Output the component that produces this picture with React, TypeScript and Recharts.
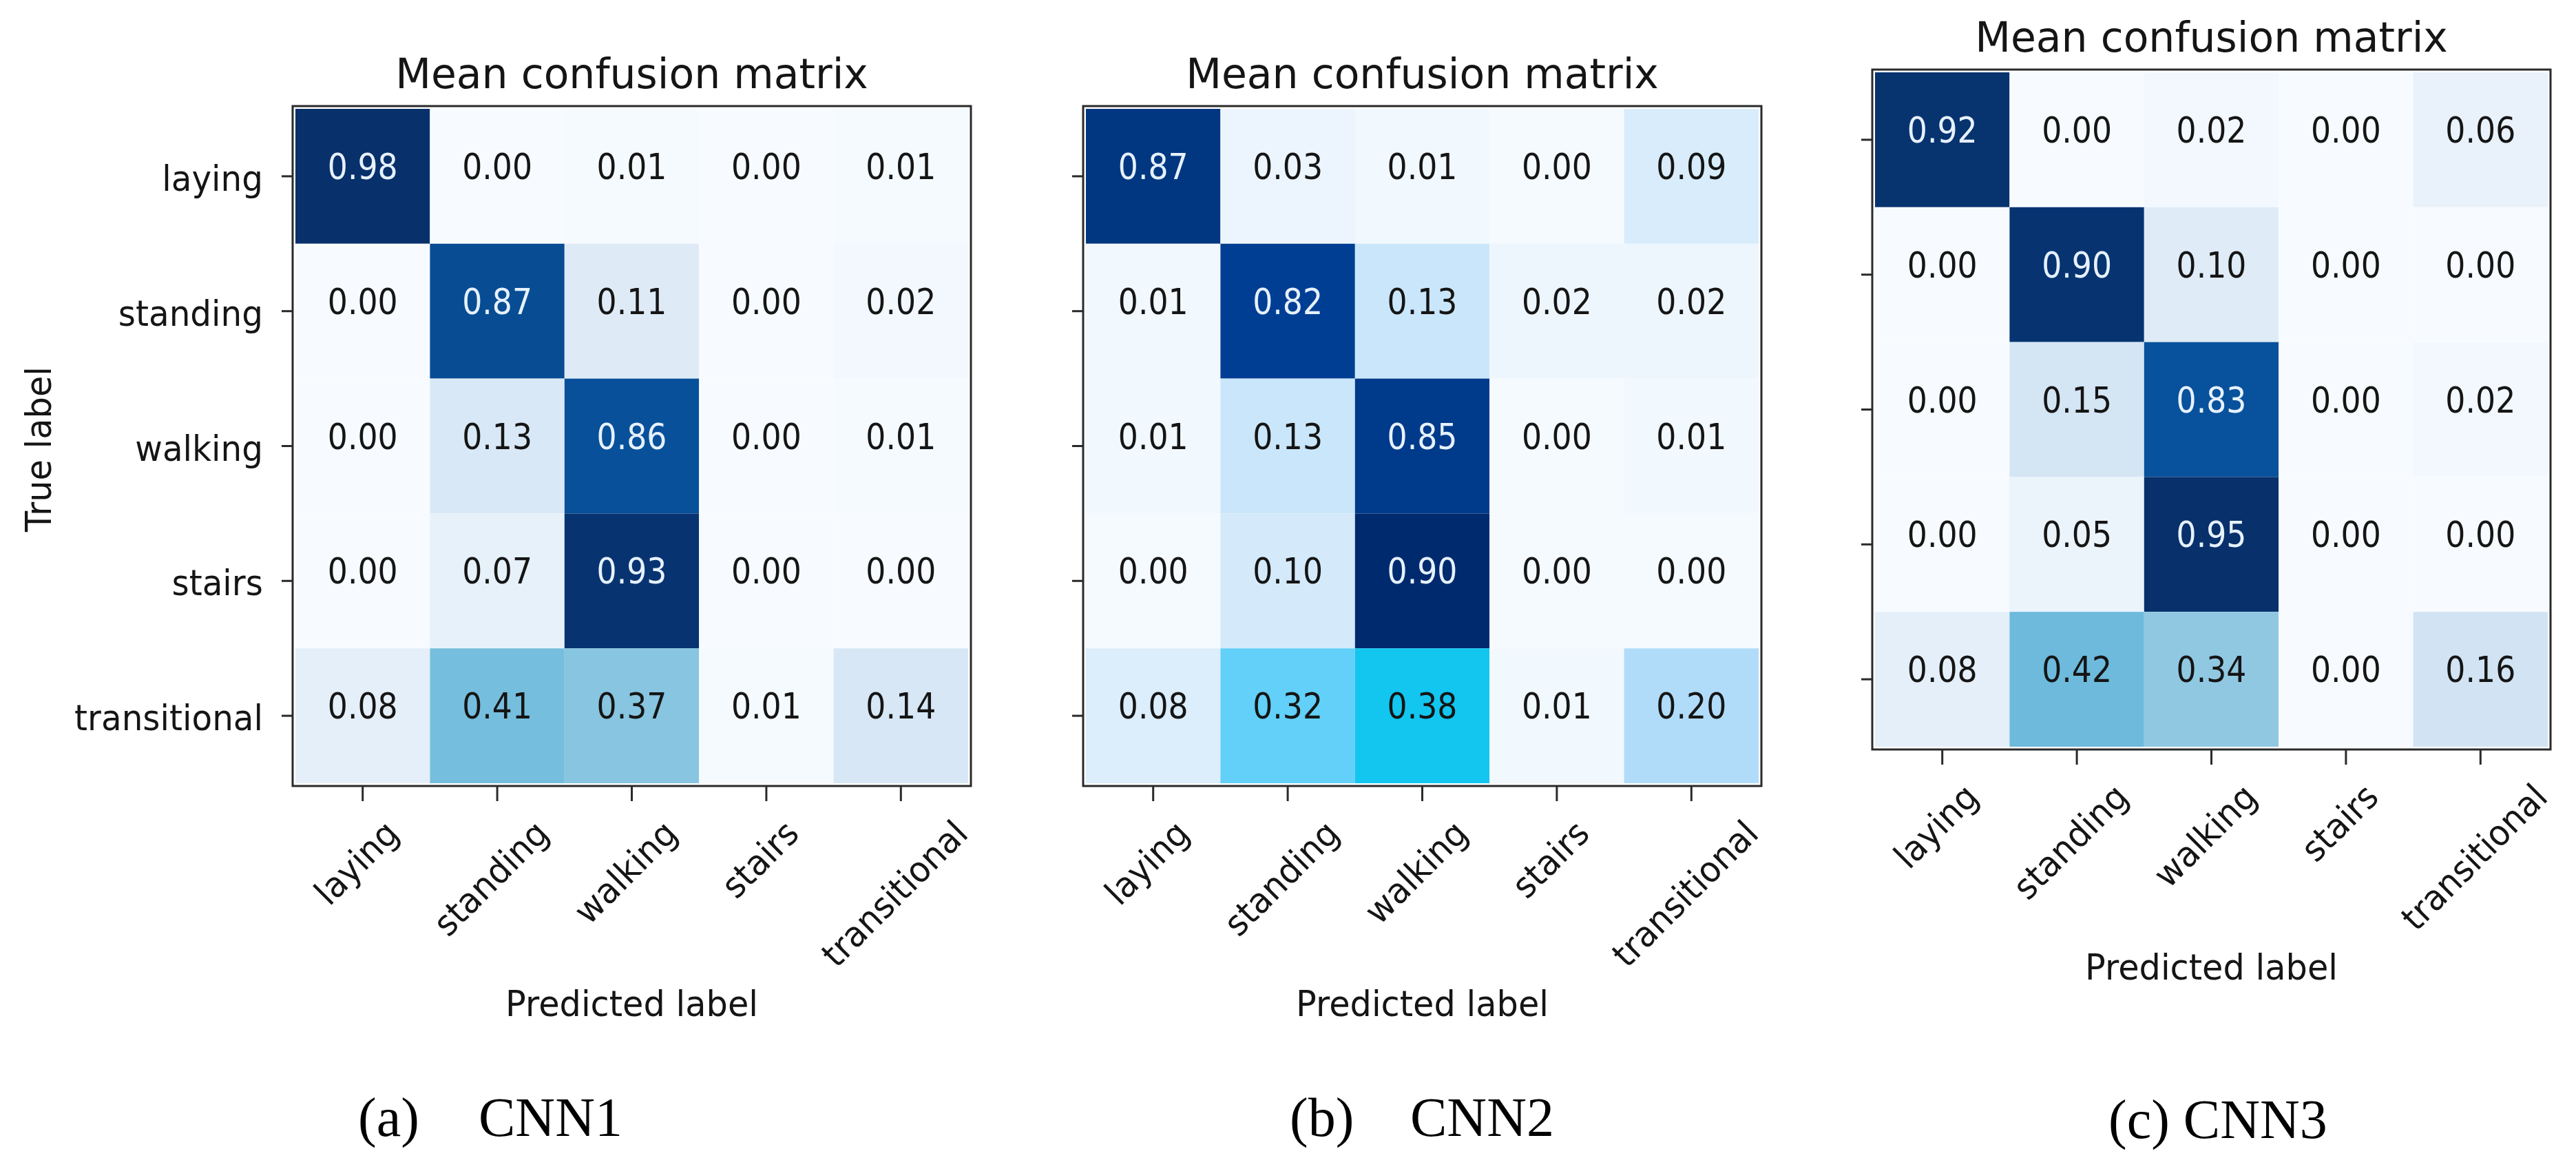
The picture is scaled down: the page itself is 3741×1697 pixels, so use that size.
import React from 'react';
import { ScatterChart, Scatter, XAxis, YAxis, ReferenceArea } from 'recharts';

// ---------------- data ----------------
const CLASSES = ['laying', 'standing', 'walking', 'stairs', 'transitional'];
const TICK_VALUES = [0, 1, 2, 3, 4];

const CNN1 = [
  [0.98, 0.0, 0.01, 0.0, 0.01],
  [0.0, 0.87, 0.11, 0.0, 0.02],
  [0.0, 0.13, 0.86, 0.0, 0.01],
  [0.0, 0.07, 0.93, 0.0, 0.0],
  [0.08, 0.41, 0.37, 0.01, 0.14],
];
const CNN2 = [
  [0.87, 0.03, 0.01, 0.0, 0.09],
  [0.01, 0.82, 0.13, 0.02, 0.02],
  [0.01, 0.13, 0.85, 0.0, 0.01],
  [0.0, 0.1, 0.9, 0.0, 0.0],
  [0.08, 0.32, 0.38, 0.01, 0.2],
];
const CNN3 = [
  [0.92, 0.0, 0.02, 0.0, 0.06],
  [0.0, 0.9, 0.1, 0.0, 0.0],
  [0.0, 0.15, 0.83, 0.0, 0.02],
  [0.0, 0.05, 0.95, 0.0, 0.0],
  [0.08, 0.42, 0.34, 0.0, 0.16],
];

const TITLE = 'Mean confusion matrix';
const X_LABEL = 'Predicted label';
const Y_LABEL = 'True label';
const CAPTION_TAGS = ['(a)', '(b)', '(c)'];
const CAPTION_NAMES = ['CNN1', 'CNN2', 'CNN3'];

// ---------------- styles / colormaps ----------------
type Stop = [number, string];
const BLUES: Stop[] = [
  [0, '#f7fbff'],
  [0.125, '#dbe9f6'],
  [0.25, '#c2daee'],
  [0.375, '#88c5e0'],
  [0.5, '#55b0d8'],
  [0.625, '#3a8fc8'],
  [0.75, '#1c6fb4'],
  [0.875, '#08519c'],
  [0.94, '#073572'],
  [1, '#08306b'],
];
const CYAN_BLUES: Stop[] = [
  [0, '#f5faff'],
  [0.011, '#f1f8fe'],
  [0.033, '#ecf5fd'],
  [0.09, '#dcedfb'],
  [0.111, '#d4eafa'],
  [0.145, '#cae6fa'],
  [0.222, '#b0dcfa'],
  [0.356, '#62d0f8'],
  [0.422, '#12c6f0'],
  [0.6, '#0a82cc'],
  [0.911, '#003e94'],
  [0.944, '#003a8a'],
  [0.967, '#003780'],
  [1, '#002a6e'],
];

function hexRgb(h: string): number[] {
  const n = parseInt(h.slice(1), 16);
  return [(n >> 16) & 255, (n >> 8) & 255, n & 255];
}
function cmap(stops: Stop[], t: number): string {
  const tt = Math.max(0, Math.min(1, t));
  for (let i = 1; i < stops.length; i++) {
    if (tt <= stops[i][0]) {
      const [t0, c0] = stops[i - 1];
      const [t1, c1] = stops[i];
      const f = t1 === t0 ? 0 : (tt - t0) / (t1 - t0);
      const a = hexRgb(c0);
      const b = hexRgb(c1);
      const m = a.map((v, k) => Math.round(v + (b[k] - v) * f));
      return `rgb(${m[0]},${m[1]},${m[2]})`;
    }
  }
  return stops[stops.length - 1][1];
}

const FONT = '"DejaVu Sans", Verdana, sans-serif';
const SERIF = '"Liberation Serif", "Times New Roman", serif';
const INK = '#151515';
const LIGHT_INK = '#e6f1fc';
const FRAME_COLOR = '#2a2a2a';

const PAGE_W = 3741;
const PAGE_H = 1697;
const PLOT_W = 977;
const PLOT_H = 979;
const CELL_W = PLOT_W / 5;
const CELL_H = PLOT_H / 5;
const FRAME_PAD = 4;
const Y_AXIS_W = 420;
const TOP_M = 20;
const RIGHT_M = 20;
const X_AXIS_H = 320;

const CELL_FS = 52;
const CELL_SX = 0.88;
const TICK_FS = 51;
const TICK_SX = 0.95;
const TITLE_FS = 60;
const LABEL_FS = 52;
const CAPTION_FS = 80;

const PANELS = [
  { matrix: CNN1, stops: BLUES, plotLeft: 429, plotTop: 158, showY: true, cap: { tagX: 520, nameX: 695, y: 1649, joined: false } },
  { matrix: CNN2, stops: CYAN_BLUES, plotLeft: 1577, plotTop: 158, showY: false, cap: { tagX: 1873, nameX: 2048, y: 1649, joined: false } },
  { matrix: CNN3, stops: BLUES, plotLeft: 2723, plotTop: 105, showY: false, cap: { tagX: 3062, nameX: 0, y: 1652, joined: true } },
];

// ---------------- helpers ----------------
let measureCtx: CanvasRenderingContext2D | null = null;
function textWidth(s: string, size: number): number {
  try {
    if (!measureCtx) measureCtx = document.createElement('canvas').getContext('2d');
    if (measureCtx) {
      measureCtx.font = `${size}px "DejaVu Sans"`;
      return measureCtx.measureText(s).width;
    }
  } catch (e) {
    /* ignore */
  }
  return s.length * 0.58 * size;
}

const XTick = (props: any) => {
  const { x, y, payload } = props;
  const label = CLASSES[payload.value] ?? '';
  const fb = y + FRAME_PAD;
  const w = textWidth(label, TICK_FS) * TICK_SX;
  const h = 50;
  const cx = x - 9;
  const cy = fb + 42 + (w + h) / (2 * Math.SQRT2);
  return (
    <g>
      <line x1={x} x2={x} y1={fb} y2={fb + 22} stroke={FRAME_COLOR} strokeWidth={3} />
      <text
        transform={`translate(${cx},${cy}) rotate(-45) scale(${TICK_SX},1)`}
        textAnchor="middle"
        dominantBaseline="central"
        fontSize={TICK_FS}
        fontFamily={FONT}
        fill={INK}
      >
        {label}
      </text>
    </g>
  );
};

const makeYTick = (show: boolean) => (props: any) => {
  const { x, y, payload } = props;
  const fl = x - FRAME_PAD;
  return (
    <g>
      <line x1={fl - 16} x2={fl} y1={y} y2={y} stroke={FRAME_COLOR} strokeWidth={3} />
      {show && (
        <text
          transform={`translate(${fl - 43},${y + 21}) scale(${TICK_SX},1)`}
          textAnchor="end"
          fontSize={TICK_FS}
          fontFamily={FONT}
          fill={INK}
        >
          {CLASSES[payload.value]}
        </text>
      )}
    </g>
  );
};

const CellMark = (props: any) => {
  const { cx, cy, payload } = props;
  if (cx == null || cy == null || !payload) return null;
  return (
    <g>
      <rect x={cx - CELL_W / 2} y={cy - CELL_H / 2} width={CELL_W} height={CELL_H} fill={payload.fill} />
      <text
        transform={`translate(${cx},${cy + 4}) scale(${CELL_SX},1)`}
        textAnchor="middle"
        fontSize={CELL_FS}
        fontFamily={FONT}
        fill={payload.ink}
      >
        {payload.v.toFixed(2)}
      </text>
    </g>
  );
};

const Frame = (props: any) => {
  const { x, y, width, height } = props;
  return (
    <rect
      x={x - FRAME_PAD}
      y={y - FRAME_PAD}
      width={width + 2 * FRAME_PAD}
      height={height + 2 * FRAME_PAD}
      fill="none"
      stroke={FRAME_COLOR}
      strokeWidth={3}
    />
  );
};

function Panel({ panel }: { panel: (typeof PANELS)[number] }) {
  const flat = panel.matrix.flat();
  const max = Math.max(...flat);
  const data = panel.matrix.flatMap((row, r) =>
    row.map((v, c) => ({
      x: c,
      y: r,
      v,
      fill: cmap(panel.stops, v / max),
      ink: v > max / 2 ? LIGHT_INK : INK,
    }))
  );
  const width = Y_AXIS_W + PLOT_W + RIGHT_M;
  const height = TOP_M + PLOT_H + X_AXIS_H;
  const YTick = makeYTick(panel.showY);
  return (
    <div style={{ position: 'absolute', left: panel.plotLeft - Y_AXIS_W, top: panel.plotTop - TOP_M }}>
      <ScatterChart width={width} height={height} margin={{ top: TOP_M, right: RIGHT_M, bottom: 0, left: 0 }}>
        <XAxis
          type="number"
          dataKey="x"
          domain={[-0.5, 4.5]}
          ticks={TICK_VALUES}
          interval={0}
          height={X_AXIS_H}
          tickSize={0}
          tickMargin={0}
          axisLine={false}
          tickLine={false}
          tick={(p: any) => <XTick {...p} />}
        />
        <YAxis
          type="number"
          dataKey="y"
          domain={[-0.5, 4.5]}
          reversed
          ticks={TICK_VALUES}
          interval={0}
          width={Y_AXIS_W}
          tickSize={0}
          tickMargin={0}
          axisLine={false}
          tickLine={false}
          tick={(p: any) => <YTick {...p} />}
        />
        <Scatter data={data} isAnimationActive={false} shape={(p: any) => <CellMark {...p} />} />
        <ReferenceArea x1={-0.5} x2={4.5} y1={-0.5} y2={4.5} shape={(p: any) => <Frame {...p} />} />
      </ScatterChart>
    </div>
  );
}

export default function App() {
  return (
    <div style={{ position: 'relative', width: PAGE_W, height: PAGE_H, background: '#fff', overflow: 'hidden' }}>
      <style>{'html,body{margin:0;padding:0;background:#fff;}'}</style>
      {PANELS.map((p, i) => (
        <Panel key={i} panel={p} />
      ))}
      <svg
        width={PAGE_W}
        height={PAGE_H}
        style={{ position: 'absolute', left: 0, top: 0, pointerEvents: 'none' }}
      >
        {PANELS.map((p, i) => {
          const cx = p.plotLeft + PLOT_W / 2;
          const frameTop = p.plotTop - FRAME_PAD;
          const frameBottom = p.plotTop + PLOT_H + FRAME_PAD;
          return (
            <g key={i}>
              <text x={cx} y={frameTop - 26} textAnchor="middle" fontSize={TITLE_FS} fontFamily={FONT} fill={INK}>
                {TITLE}
              </text>
              <text
                transform={`translate(${cx},${frameBottom + 334}) scale(${TICK_SX},1)`}
                textAnchor="middle"
                fontSize={LABEL_FS}
                fontFamily={FONT}
                fill={INK}
              >
                {X_LABEL}
              </text>
              {p.cap.joined ? (
                <text x={p.cap.tagX} y={p.cap.y} fontSize={CAPTION_FS} fontFamily={SERIF} fill="#000">
                  {`${CAPTION_TAGS[i]} ${CAPTION_NAMES[i]}`}
                </text>
              ) : (
                <g>
                  <text x={p.cap.tagX} y={p.cap.y} fontSize={CAPTION_FS} fontFamily={SERIF} fill="#000">
                    {CAPTION_TAGS[i]}
                  </text>
                  <text x={p.cap.nameX} y={p.cap.y} fontSize={CAPTION_FS} fontFamily={SERIF} fill="#000">
                    {CAPTION_NAMES[i]}
                  </text>
                </g>
              )}
            </g>
          );
        })}
        <text
          transform={`translate(74,652) rotate(-90) scale(${TICK_SX},1)`}
          textAnchor="middle"
          fontSize={LABEL_FS}
          fontFamily={FONT}
          fill={INK}
        >
          {Y_LABEL}
        </text>
      </svg>
    </div>
  );
}
